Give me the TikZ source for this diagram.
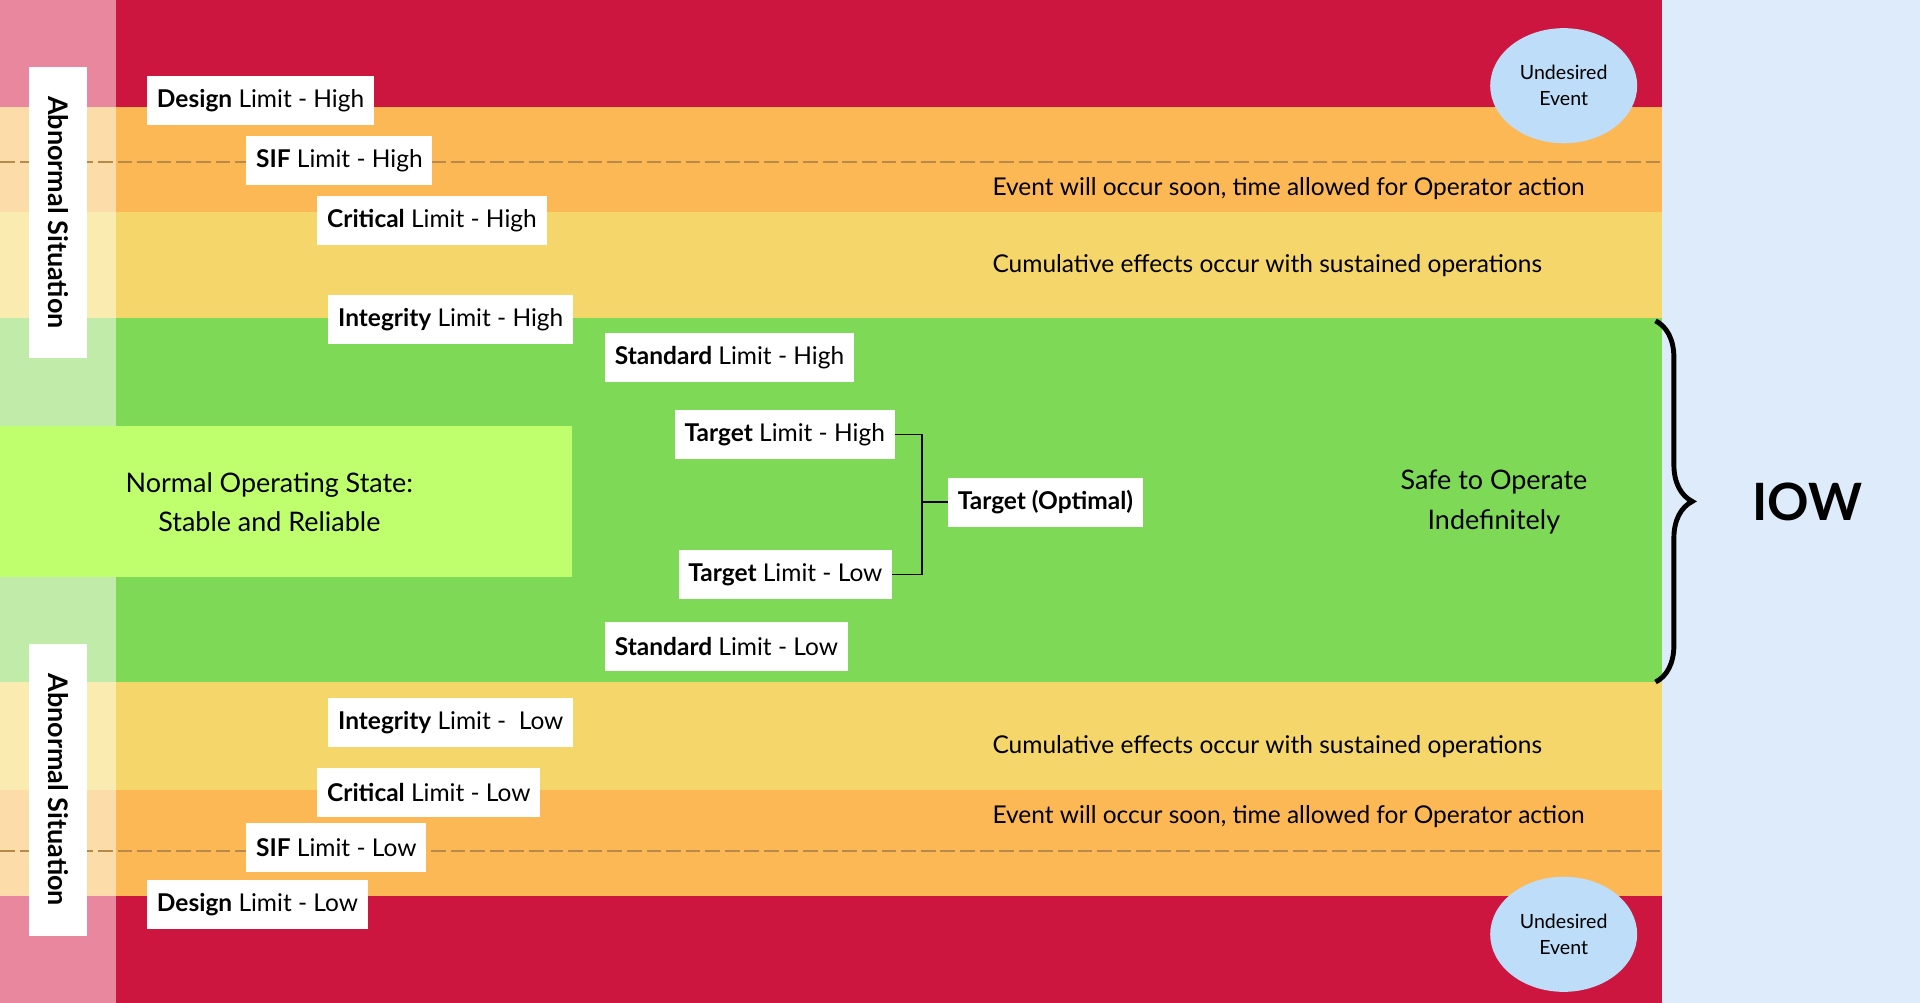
\documentclass[tikz,border=0pt]{standalone}
\usepackage{fontspec}
\setmainfont{Lato}
\usetikzlibrary{decorations.pathreplacing}
\definecolor{cred}{HTML}{CC163F}
\definecolor{corange}{HTML}{FDB856}
\definecolor{cyellow}{HTML}{F5D66B}
\definecolor{cgreen}{HTML}{7ED957}
\definecolor{cnormal}{HTML}{BFFF6E}
\definecolor{lpink}{HTML}{E8879D}
\definecolor{lpeach}{HTML}{FCDCA8}
\definecolor{lyellow}{HTML}{FAEBB0}
\definecolor{lgreen}{HTML}{C1EBA8}
\definecolor{cblue}{HTML}{DDEBFA}
\definecolor{cell}{HTML}{BDDDF8}
\definecolor{cdash}{HTML}{B88A4A}
\tikzset{
  lim/.style={fill=white, anchor=west, minimum height=40pt, inner xsep=8pt, font=\fontsize{20}{24}\selectfont},
  note/.style={anchor=west, font=\fontsize{20}{24}\selectfont},
  abn/.style={fill=white, rotate=-90, minimum height=47pt, font=\bfseries\fontsize{22}{26}\selectfont},
  ev/.style={ellipse, fill=cell, minimum width=120pt, minimum height=94pt, align=center, font=\fontsize{16}{21}\selectfont, inner sep=0pt},
}
\usetikzlibrary{shapes.geometric}
\begin{document}
\begin{tikzpicture}[x=1pt,y=-1pt]
\useasboundingbox (0,0) rectangle (1568,819);
% main bands
\fill[cred] (95,0) rectangle (1357,87);
\fill[corange] (95,87) rectangle (1357,173);
\fill[cyellow] (95,173) rectangle (1357,260);
\fill[cgreen] (95,260) rectangle (1357,557);
\fill[cyellow] (95,557) rectangle (1357,645);
\fill[corange] (95,645) rectangle (1357,732);
\fill[cred] (95,732) rectangle (1357,819);
% left strip
\fill[lpink] (0,0) rectangle (95,87);
\fill[lpeach] (0,87) rectangle (95,173);
\fill[lyellow] (0,173) rectangle (95,260);
\fill[lgreen] (0,260) rectangle (95,557);
\fill[lyellow] (0,557) rectangle (95,645);
\fill[lpeach] (0,645) rectangle (95,732);
\fill[lpink] (0,732) rectangle (95,819);
% right
\fill[cblue] (1357,0) rectangle (1568,819);
% dashed
\draw[cdash, dashed, dash pattern=on 12pt off 4pt, line width=1.5pt] (0,132) -- (1357,132);
\draw[cdash, dashed, dash pattern=on 12pt off 4pt, line width=1.5pt] (0,695) -- (1357,695);
% normal box
\fill[cnormal] (0,348) rectangle (467,471);
\node[align=center, font=\fontsize{22}{32}\selectfont] (norm) at (220,410) {Normal Operating State:\\Stable and Reliable};
% abnormal
\node[abn, minimum width=237pt] (ab1) at (47.5,173.5) {Abnormal Situation};
\node[abn, minimum width=238pt] (ab2) at (47.5,645) {Abnormal Situation};
% limits
\node[lim] (dh) at (120,82) {\textbf{Design} Limit - High};
\node[lim] (sh) at (201,131) {\textbf{SIF} Limit - High};
\node[lim] (ch) at (259,180) {\textbf{Critical} Limit - High};
\node[lim] (ih) at (268,261) {\textbf{Integrity} Limit - High};
\node[lim] (sth) at (494,292) {\textbf{Standard} Limit - High};
\node[lim] (th) at (551,355) {\textbf{Target} Limit - High};
\node[lim] (to) at (774,410) {\textbf{Target (Optimal)}};
\node[lim] (tl) at (554,469) {\textbf{Target} Limit - Low};
\node[lim] (stl) at (494,528) {\textbf{Standard} Limit - Low};
\node[lim] (il) at (268,590) {\textbf{Integrity} Limit -~ Low};
\node[lim] (cl) at (259,647) {\textbf{Critical} Limit - Low};
\node[lim] (sl) at (201,692) {\textbf{SIF} Limit - Low};
\node[lim] (dl) at (120,739) {\textbf{Design} Limit - Low};
% bracket
\coordinate (bm) at (753,410);
\draw[line width=1.2pt] (th.east) -| (bm) |- (tl.east);
\draw[line width=1.2pt] (bm) -- (to.west);
% notes
\node[note] (n1) at (807,154) {Event will occur soon, time allowed for Operator action};
\node[note] (n2) at (807,217) {Cumulative effects occur with sustained operations};
\node[note] (n3) at (807,610) {Cumulative effects occur with sustained operations};
\node[note] (n4) at (807,667) {Event will occur soon, time allowed for Operator action};
\node[align=center, font=\fontsize{22}{32}\selectfont] (safe) at (1220,410) {Safe to Operate\\Indefinitely};
% events
\node[ev] (e1) at (1277,70) {Undesired\\Event};
\node[ev] (e2) at (1277,763) {Undesired\\Event};
% brace
\coordinate (bt) at (1352,262);
\coordinate (bb) at (1352,557);
\draw[line width=4pt, decorate, decoration={brace, amplitude=30pt}] (bt) -- (bb);
\node[font=\bfseries\fontsize{42}{48}\selectfont] (iow) at (1476,410) {IOW};
\end{tikzpicture}
\end{document}
